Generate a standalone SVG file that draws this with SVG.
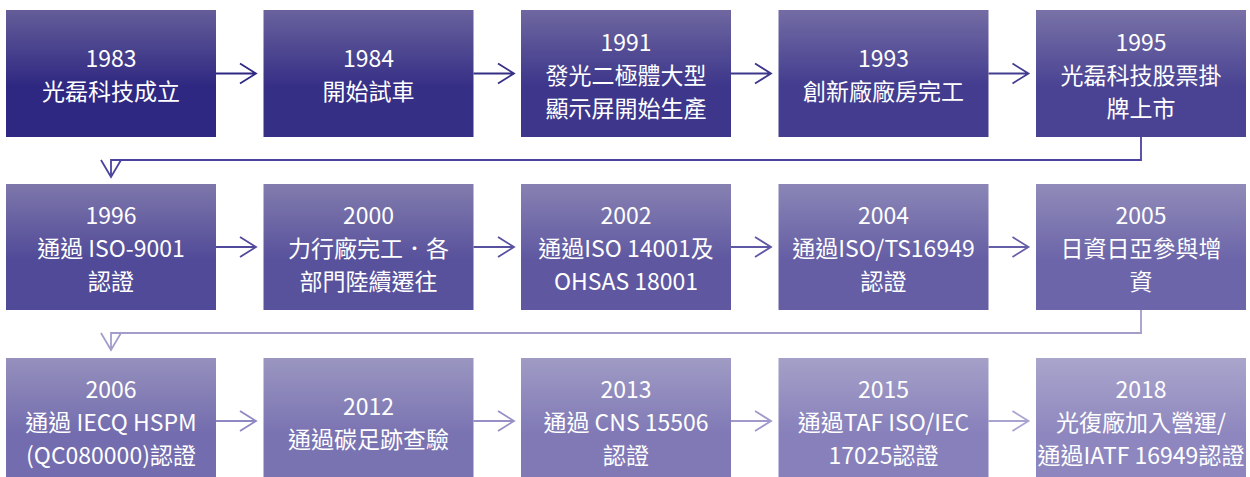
<svg xmlns="http://www.w3.org/2000/svg" width="1250" height="477" viewBox="0 0 1250 477">
<defs>
<style>
text{font-family:"Noto Sans CJK TC","Noto Sans",sans-serif;font-size:23px;fill:#ffffff;text-anchor:middle;dominant-baseline:central}
.c{fill:none;stroke-width:1.8;stroke-linejoin:miter}
</style>
<linearGradient id="g0" x1="0" y1="0" x2="0" y2="1"><stop offset="0" stop-color="#645d99"/><stop offset="0.6" stop-color="#2f2882"/><stop offset="1" stop-color="#2f2882"/></linearGradient>
<linearGradient id="g1" x1="0" y1="0" x2="0" y2="1"><stop offset="0" stop-color="#69629d"/><stop offset="0.6" stop-color="#362f86"/><stop offset="1" stop-color="#362f86"/></linearGradient>
<linearGradient id="g2" x1="0" y1="0" x2="0" y2="1"><stop offset="0" stop-color="#6e67a0"/><stop offset="0.6" stop-color="#3d368b"/><stop offset="1" stop-color="#3d368b"/></linearGradient>
<linearGradient id="g3" x1="0" y1="0" x2="0" y2="1"><stop offset="0" stop-color="#736ca4"/><stop offset="0.6" stop-color="#433c8f"/><stop offset="1" stop-color="#433c8f"/></linearGradient>
<linearGradient id="g4" x1="0" y1="0" x2="0" y2="1"><stop offset="0" stop-color="#7872a7"/><stop offset="0.6" stop-color="#4a4393"/><stop offset="1" stop-color="#4a4393"/></linearGradient>
<linearGradient id="g5" x1="0" y1="0" x2="0" y2="1"><stop offset="0" stop-color="#7d77ab"/><stop offset="0.6" stop-color="#514a98"/><stop offset="1" stop-color="#514a98"/></linearGradient>
<linearGradient id="g6" x1="0" y1="0" x2="0" y2="1"><stop offset="0" stop-color="#827cae"/><stop offset="0.6" stop-color="#58519c"/><stop offset="1" stop-color="#58519c"/></linearGradient>
<linearGradient id="g7" x1="0" y1="0" x2="0" y2="1"><stop offset="0" stop-color="#8781b2"/><stop offset="0.6" stop-color="#5f58a1"/><stop offset="1" stop-color="#5f58a1"/></linearGradient>
<linearGradient id="g8" x1="0" y1="0" x2="0" y2="1"><stop offset="0" stop-color="#8b86b6"/><stop offset="0.6" stop-color="#655ea5"/><stop offset="1" stop-color="#655ea5"/></linearGradient>
<linearGradient id="g9" x1="0" y1="0" x2="0" y2="1"><stop offset="0" stop-color="#908bb9"/><stop offset="0.6" stop-color="#6c65a9"/><stop offset="1" stop-color="#6c65a9"/></linearGradient>
<linearGradient id="g10" x1="0" y1="0" x2="0" y2="1"><stop offset="0" stop-color="#9590bd"/><stop offset="0.6" stop-color="#736cae"/><stop offset="1" stop-color="#736cae"/></linearGradient>
<linearGradient id="g11" x1="0" y1="0" x2="0" y2="1"><stop offset="0" stop-color="#9a96c0"/><stop offset="0.6" stop-color="#7a73b2"/><stop offset="1" stop-color="#7a73b2"/></linearGradient>
<linearGradient id="g12" x1="0" y1="0" x2="0" y2="1"><stop offset="0" stop-color="#9f9bc4"/><stop offset="0.6" stop-color="#8079b6"/><stop offset="1" stop-color="#8079b6"/></linearGradient>
<linearGradient id="g13" x1="0" y1="0" x2="0" y2="1"><stop offset="0" stop-color="#a4a0c7"/><stop offset="0.6" stop-color="#8780bb"/><stop offset="1" stop-color="#8780bb"/></linearGradient>
<linearGradient id="g14" x1="0" y1="0" x2="0" y2="1"><stop offset="0" stop-color="#a9a5cb"/><stop offset="0.6" stop-color="#8e87bf"/><stop offset="1" stop-color="#8e87bf"/></linearGradient>
</defs>

<g id="connectors">
<path class="c" stroke="#2f2882" d="M216,73.5 H256 M240,63.5 L256,73.5 L240,83.5"/>
<path class="c" stroke="#362f86" d="M473.5,73.5 H514 M498,63.5 L514,73.5 L498,83.5"/>
<path class="c" stroke="#3d368b" d="M731,73.5 H771 M755,63.5 L771,73.5 L755,83.5"/>
<path class="c" stroke="#433c8f" d="M988.5,73.5 H1028.5 M1012.5,63.5 L1028.5,73.5 L1012.5,83.5"/>
<path class="c" stroke="#4a43a0" d="M1141,137 V160 H111 V177 M101,160 L111,177 L121,160"/>
<path class="c" stroke="#514a9c" d="M216,247 H256 M240,237 L256,247 L240,257"/>
<path class="c" stroke="#58519f" d="M473.5,247 H514 M498,237 L514,247 L498,257"/>
<path class="c" stroke="#5f58a4" d="M731,247 H771 M755,237 L771,247 L755,257"/>
<path class="c" stroke="#655ea8" d="M988.5,247 H1028.5 M1012.5,237 L1028.5,247 L1012.5,257"/>
<path class="c" stroke="#a29ec9" d="M1141,310 V333 H111 V350 M101,333 L111,350 L121,333"/>
<path class="c" stroke="#8e88c2" d="M216,421 H256 M240,411 L256,421 L240,431"/>
<path class="c" stroke="#9690c6" d="M473.5,421 H514 M498,411 L514,421 L498,431"/>
<path class="c" stroke="#9f9acb" d="M731,421 H771 M755,411 L771,421 L755,431"/>
<path class="c" stroke="#a8a4d0" d="M988.5,421 H1028.5 M1012.5,411 L1028.5,421 L1012.5,431"/>
</g>

<g id="n1983"><rect x="6" y="10" width="210" height="127" fill="url(#g0)"/><text x="111" y="57">1983</text><text x="111" y="90">光磊科技成立</text></g>
<g id="n1984"><rect x="263.5" y="10" width="210" height="127" fill="url(#g1)"/><text x="368.5" y="57">1984</text><text x="368.5" y="90">開始試車</text></g>
<g id="n1991"><rect x="521" y="10" width="210" height="127" fill="url(#g2)"/><text x="626" y="41">1991</text><text x="626" y="74">發光二極體大型</text><text x="626" y="107">顯示屏開始生產</text></g>
<g id="n1993"><rect x="778.5" y="10" width="210" height="127" fill="url(#g3)"/><text x="883.5" y="57">1993</text><text x="883.5" y="90">創新廠廠房完工</text></g>
<g id="n1995"><rect x="1036" y="10" width="210" height="127" fill="url(#g4)"/><text x="1141" y="41">1995</text><text x="1141" y="74">光磊科技股票掛</text><text x="1141" y="107">牌上市</text></g>

<g id="n1996"><rect x="6" y="184" width="210" height="126" fill="url(#g5)"/><text x="111" y="214">1996</text><text x="111" y="247">通過 ISO-9001</text><text x="111" y="280">認證</text></g>
<g id="n2000"><rect x="263.5" y="184" width="210" height="126" fill="url(#g6)"/><text x="368.5" y="214">2000</text><text x="368.5" y="247">力行廠完工．各</text><text x="368.5" y="280">部門陸續遷往</text></g>
<g id="n2002"><rect x="521" y="184" width="210" height="126" fill="url(#g7)"/><text x="626" y="214">2002</text><text x="626" y="247">通過ISO 14001及</text><text x="626" y="280">OHSAS 18001</text></g>
<g id="n2004"><rect x="778.5" y="184" width="210" height="126" fill="url(#g8)"/><text x="883.5" y="214">2004</text><text x="883.5" y="247">通過ISO/TS16949</text><text x="883.5" y="280">認證</text></g>
<g id="n2005"><rect x="1036" y="184" width="210" height="126" fill="url(#g9)"/><text x="1141" y="214">2005</text><text x="1141" y="247">日資日亞參與增</text><text x="1141" y="280">資</text></g>

<g id="n2006"><rect x="6" y="358" width="210" height="127" fill="url(#g10)"/><text x="111" y="388">2006</text><text x="111" y="421">通過 IECQ HSPM</text><text x="111" y="454">(QC080000)認證</text></g>
<g id="n2012"><rect x="263.5" y="358" width="210" height="127" fill="url(#g11)"/><text x="368.5" y="405">2012</text><text x="368.5" y="438">通過碳足跡查驗</text></g>
<g id="n2013"><rect x="521" y="358" width="210" height="127" fill="url(#g12)"/><text x="626" y="388">2013</text><text x="626" y="421">通過 CNS 15506</text><text x="626" y="454">認證</text></g>
<g id="n2015"><rect x="778.5" y="358" width="210" height="127" fill="url(#g13)"/><text x="883.5" y="388">2015</text><text x="883.5" y="421">通過TAF ISO/IEC</text><text x="883.5" y="454">17025認證</text></g>
<g id="n2018"><rect x="1036" y="358" width="210" height="127" fill="url(#g14)"/><text x="1141" y="388">2018</text><text x="1141" y="421">光復廠加入營運/</text><text x="1141" y="454">通過IATF 16949認證</text></g>
</svg>
